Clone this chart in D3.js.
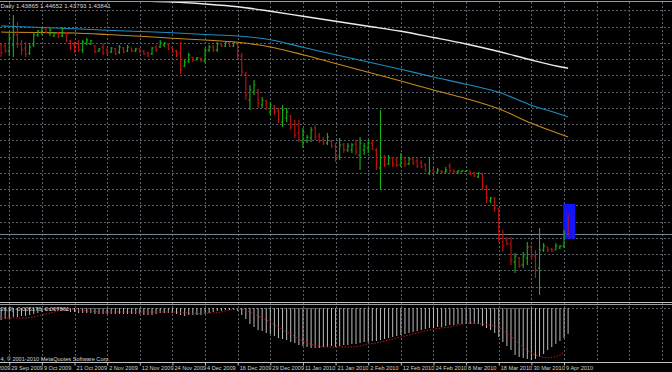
<!DOCTYPE html>
<html>
<head>
<meta charset="utf-8">
<script src="https://cdn.jsdelivr.net/npm/d3@7"></script>
<style>
html, body { margin: 0; padding: 0; background: #000; }
svg { display: block; }
text { font-family: "Liberation Sans Narrow", "Liberation Sans", Arial, sans-serif; }
</style>
</head>
<body>
<svg id="chart" width="672" height="372"></svg>
<script>
// daily bars, 25 Sep 2009 .. 12 Apr 2010
var opens = [1.5142,1.5138,1.5118,1.5142,1.5182,1.5146,1.5130,1.5110,1.5142,1.5182,
	1.5194,1.5206,1.5190,1.5178,1.5190,1.5178,1.5190,1.5158,1.5142,1.5146,
	1.5122,1.5150,1.5146,1.5138,1.5118,1.5134,1.5122,1.5114,1.5126,1.5114,
	1.5130,1.5118,1.5130,1.5118,1.5126,1.5118,1.5110,1.5106,1.5134,1.5134,
	1.5142,1.5146,1.5130,1.5118,1.5110,1.5058,1.5078,1.5094,1.5082,1.5090,
	1.5078,1.5122,1.5134,1.5122,1.5146,1.5138,1.5150,1.5138,1.5146,1.5098,
	1.5026,1.4922,1.4954,1.4962,1.4902,1.4918,1.4874,1.4898,1.4878,1.4834,
	1.4850,1.4858,1.4822,1.4790,1.4754,1.4758,1.4770,1.4810,1.4778,1.4762,
	1.4750,1.4758,1.4738,1.4698,1.4742,1.4722,1.4722,1.4746,1.4702,1.4722,
	1.4730,1.4750,1.4722,1.4650,1.4694,1.4666,1.4690,1.4682,1.4662,1.4690,
	1.4666,1.4686,1.4678,1.4670,1.4662,1.4630,1.4642,1.4634,1.4638,1.4634,
	1.4658,1.4642,1.4634,1.4634,1.4636,1.4638,1.4630,1.4614,1.4626,1.4574,
	1.4518,1.4530,1.4486,1.4370,1.4362,1.4346,1.4274,1.4290,1.4262,1.4290,
	1.4334,1.4298,1.4250,1.4322,1.4334,1.4326,1.4322,1.4330,1.4338,1.43865];
var highs = [1.5150,1.5150,1.5194,1.5262,1.5234,1.5162,1.5154,1.5150,1.5194,1.5202,
	1.5214,1.5210,1.5210,1.5194,1.5194,1.5214,1.5194,1.5162,1.5154,1.5162,
	1.5162,1.5170,1.5162,1.5142,1.5130,1.5150,1.5130,1.5134,1.5130,1.5142,
	1.5134,1.5142,1.5130,1.5130,1.5130,1.5122,1.5114,1.5134,1.5142,1.5162,
	1.5154,1.5150,1.5134,1.5122,1.5154,1.5082,1.5110,1.5094,1.5094,1.5090,
	1.5130,1.5142,1.5142,1.5154,1.5150,1.5154,1.5154,1.5154,1.5150,1.5110,
	1.5034,1.4982,1.5002,1.4966,1.4934,1.4922,1.4914,1.4902,1.4890,1.4902,
	1.4890,1.4862,1.4842,1.4842,1.4810,1.4782,1.4814,1.4822,1.4790,1.4774,
	1.4790,1.4762,1.4750,1.4770,1.4750,1.4750,1.4750,1.4762,1.4774,1.4750,
	1.4762,1.4762,1.4730,1.4882,1.4702,1.4702,1.4694,1.4694,1.4710,1.4690,
	1.4694,1.4694,1.4694,1.4682,1.4670,1.4690,1.4650,1.4650,1.4642,1.4654,
	1.4670,1.4642,1.4642,1.4642,1.4642,1.4638,1.4634,1.4634,1.4630,1.4582,
	1.4534,1.4534,1.4490,1.4402,1.4374,1.4374,1.4310,1.4294,1.4314,1.4354,
	1.4342,1.4322,1.4410,1.4350,1.4334,1.4330,1.4350,1.4342,1.4402,1.44652];
var lows = [1.5094,1.5110,1.5098,1.5094,1.5130,1.5102,1.5094,1.5102,1.5134,1.5174,
	1.5182,1.5190,1.5178,1.5174,1.5170,1.5174,1.5154,1.5122,1.5110,1.5114,
	1.5110,1.5142,1.5142,1.5110,1.5114,1.5102,1.5102,1.5110,1.5102,1.5106,
	1.5110,1.5114,1.5114,1.5114,1.5110,1.5102,1.5094,1.5102,1.5114,1.5130,
	1.5134,1.5122,1.5110,1.5094,1.5026,1.5054,1.5070,1.5074,1.5082,1.5074,
	1.5070,1.5114,1.5114,1.5114,1.5134,1.5134,1.5134,1.5134,1.5082,1.5022,
	1.4922,1.4882,1.4942,1.4890,1.4890,1.4882,1.4862,1.4862,1.4830,1.4814,
	1.4834,1.4802,1.4770,1.4754,1.4730,1.4750,1.4754,1.4762,1.4750,1.4742,
	1.4742,1.4730,1.4674,1.4682,1.4710,1.4714,1.4710,1.4702,1.4642,1.4702,
	1.4710,1.4722,1.4642,1.4562,1.4654,1.4662,1.4654,1.4654,1.4654,1.4654,
	1.4662,1.4662,1.4650,1.4650,1.4634,1.4622,1.4630,1.4630,1.4630,1.4630,
	1.4630,1.4630,1.4626,1.4634,1.4634,1.4622,1.4614,1.4610,1.4562,1.4510,
	1.4510,1.4474,1.4354,1.4314,1.4342,1.4262,1.4230,1.4250,1.4250,1.4262,
	1.4282,1.4210,1.4142,1.4314,1.4314,1.4314,1.4322,1.4326,1.4330,1.43793];
var closes = [1.5110,1.5118,1.5170,1.5182,1.5146,1.5122,1.5106,1.5134,1.5182,1.5198,
	1.5210,1.5194,1.5202,1.5190,1.5174,1.5206,1.5158,1.5130,1.5118,1.5122,
	1.5154,1.5162,1.5158,1.5114,1.5126,1.5110,1.5110,1.5130,1.5106,1.5134,
	1.5114,1.5134,1.5118,1.5126,1.5114,1.5106,1.5098,1.5130,1.5122,1.5154,
	1.5150,1.5126,1.5114,1.5102,1.5042,1.5074,1.5102,1.5082,1.5090,1.5078,
	1.5122,1.5134,1.5122,1.5146,1.5138,1.5150,1.5138,1.5150,1.5098,1.5034,
	1.4942,1.4962,1.4982,1.4910,1.4922,1.4894,1.4902,1.4874,1.4842,1.4882,
	1.4874,1.4814,1.4782,1.4762,1.4794,1.4774,1.4802,1.4774,1.4758,1.4750,
	1.4774,1.4738,1.4690,1.4742,1.4722,1.4738,1.4742,1.4714,1.4750,1.4738,
	1.4750,1.4726,1.4654,1.4690,1.4662,1.4690,1.4666,1.4662,1.4694,1.4666,
	1.4686,1.4670,1.4658,1.4654,1.4642,1.4638,1.4634,1.4642,1.4634,1.4642,
	1.4638,1.4634,1.4638,1.4638,1.4640,1.4626,1.4618,1.4630,1.4574,1.4530,
	1.4530,1.4490,1.4370,1.4338,1.4346,1.4282,1.4298,1.4258,1.4298,1.4334,
	1.4298,1.4242,1.4322,1.4338,1.4322,1.4318,1.4338,1.4338,1.4386,1.43841];

// moving averages, read every 8 bars
var maBars   = [0, 2, 10, 18, 26, 34, 42, 50, 58, 66, 74, 82, 90, 98, 106, 114, 122, 130, 138, 139];
var blueMA   = [1.5218,1.5217,1.5212,1.5207,1.5201,1.5196,1.5191,1.5184,1.5178,1.5163,
	1.5133,1.5103,1.5074,1.5045,1.5014,1.4985,1.4953,1.4901,1.4860,1.4854];
var orangeMA = [1.5194,1.5193,1.5192,1.5190,1.5184,1.5177,1.5169,1.5162,1.5153,1.5134,
	1.5103,1.5068,1.5033,1.4998,1.4962,1.4928,1.4887,1.4829,1.4780,1.4774];
var whiteMA  = [null,null,null,null,1.5322,1.5318,1.5314,1.5306,1.5295,1.5277,
	1.5257,1.5237,1.5217,1.5197,1.5172,1.5146,1.5116,1.5082,1.5052,1.5049];

// MACD(12,26,9)
var macdMain = [-0.0024,-0.0022,-0.0020,-0.0018,-0.0018,-0.0016,-0.0016,-0.0014,-0.0012,-0.0010,
	-0.0008,-0.0006,-0.0006,-0.0004,-0.0004,-0.0004,-0.0006,-0.0008,-0.0008,-0.0010,
	-0.0010,-0.0010,-0.0010,-0.0012,-0.0012,-0.0012,-0.0012,-0.0012,-0.0012,-0.0012,
	-0.0012,-0.0012,-0.0012,-0.0012,-0.0012,-0.0014,-0.0014,-0.0014,-0.0012,-0.0010,
	-0.0010,-0.0010,-0.0010,-0.0012,-0.0014,-0.0016,-0.0014,-0.0014,-0.0014,-0.0014,
	-0.0012,-0.0010,-0.0008,-0.0006,-0.0006,-0.0004,-0.0004,-0.0004,-0.0006,-0.0014,
	-0.0022,-0.0032,-0.0038,-0.0044,-0.0046,-0.0050,-0.0052,-0.0056,-0.0060,-0.0062,
	-0.0064,-0.0068,-0.0070,-0.0074,-0.0076,-0.0078,-0.0080,-0.0080,-0.0080,-0.0078,
	-0.0078,-0.0076,-0.0078,-0.0076,-0.0074,-0.0074,-0.0072,-0.0072,-0.0070,-0.0068,
	-0.0068,-0.0066,-0.0066,-0.0064,-0.0062,-0.0060,-0.0058,-0.0056,-0.0054,-0.0052,
	-0.0050,-0.0048,-0.0046,-0.0044,-0.0042,-0.0040,-0.0040,-0.0038,-0.0038,-0.0036,
	-0.0034,-0.0034,-0.0032,-0.0032,-0.0032,-0.0032,-0.0032,-0.0032,-0.0036,-0.0040,
	-0.0044,-0.0050,-0.0058,-0.0068,-0.0076,-0.0084,-0.0094,-0.0098,-0.0100,-0.0102,
	-0.0104,-0.0102,-0.0098,-0.0092,-0.0084,-0.0078,-0.0072,-0.0066,-0.0060,-0.005176];
var macdSignal = [-0.0020,-0.0020,-0.0020,-0.0020,-0.0020,-0.0020,-0.0020,-0.0019,-0.0018,-0.0016,
	-0.0014,-0.0012,-0.0010,-0.0008,-0.0006,-0.0004,-0.0002,-0.0002,-0.0003,-0.0004,
	-0.0005,-0.0006,-0.0006,-0.0007,-0.0008,-0.0008,-0.0008,-0.0008,-0.0008,-0.0008,
	-0.0008,-0.0008,-0.0008,-0.0008,-0.0008,-0.0008,-0.0008,-0.0008,-0.0008,-0.0008,
	-0.0008,-0.0008,-0.0008,-0.0008,-0.0009,-0.0010,-0.0010,-0.0011,-0.0011,-0.0011,
	-0.0011,-0.0010,-0.0010,-0.0009,-0.0008,-0.0006,-0.0004,-0.0003,-0.0002,-0.0003,
	-0.0005,-0.0008,-0.0012,-0.0016,-0.0020,-0.0024,-0.0028,-0.0033,-0.0038,-0.0043,
	-0.0048,-0.0052,-0.0057,-0.0062,-0.0066,-0.0070,-0.0073,-0.0075,-0.0077,-0.0078,
	-0.0078,-0.0078,-0.0078,-0.0078,-0.0078,-0.0078,-0.0078,-0.0077,-0.0076,-0.0074,
	-0.0072,-0.0071,-0.0070,-0.0068,-0.0066,-0.0064,-0.0062,-0.0060,-0.0058,-0.0056,
	-0.0054,-0.0052,-0.0050,-0.0048,-0.0046,-0.0044,-0.0042,-0.0041,-0.0040,-0.0039,
	-0.0038,-0.0036,-0.0034,-0.0032,-0.0031,-0.0030,-0.0030,-0.0031,-0.0032,-0.0033,
	-0.0034,-0.0036,-0.0039,-0.0044,-0.0050,-0.0057,-0.0064,-0.0072,-0.0079,-0.0085,
	-0.0090,-0.0094,-0.0097,-0.0099,-0.0100,-0.0099,-0.0097,-0.0094,-0.0088,-0.007861];

// time axis: a label every 8 bars
var labelBars = [-6, 2, 10, 18, 26, 34, 42, 50, 58, 66, 74, 82, 90, 98, 106, 114, 122, 130, 138];
var dateLabels = ["17 Sep 2009","29 Sep 2009","9 Oct 2009","21 Oct 2009","2 Nov 2009","12 Nov 2009",
	"24 Nov 2009","4 Dec 2009","16 Dec 2009","29 Dec 2009","11 Jan 2010","21 Jan 2010","2 Feb 2010",
	"12 Feb 2010","24 Feb 2010","8 Mar 2010","18 Mar 2010","30 Mar 2010","9 Apr 2010"];

// blue rectangle object on the chart
var boxBars = [137.8, 140.75];
var boxPrices = [1.4506, 1.4367];

var headerText = "Daily  1.43865 1.44652 1.43793 1.43841";
var macdText = "26,9) -0.005176 -0.007861";
var copyText = "4, \u00a9 2001-2010 MetaQuotes Software Corp.";

var W = 672, MAIN_BOTTOM = 302, SUB_TOP = 305, SUB_BOTTOM = 362;
var GRID = "#5a616d", GREEN = "#14b414", RED = "#c41212";

var svg = d3.select("#chart");
svg.append("rect").attr("width", W).attr("height", 372).attr("fill", "#000");

var x = d3.scaleLinear().domain([0, 139]).range([1.1, 568.1]);
var y = d3.scaleLinear().domain([1.5322, 1.4122]).range([0, 300]);
var ym = d3.scaleLinear().domain([0.0006, -0.0108]).range([SUB_TOP, SUB_BOTTOM]);

svg.append("clipPath").attr("id", "mainclip")
	.append("rect").attr("x", 0).attr("y", 2).attr("width", W).attr("height", MAIN_BOTTOM - 2);

// grid
var gridBars = d3.range(-6, 163, 8);
svg.append("g")
	.selectAll("line")
	.data(gridBars)
	.enter().append("line")
		.attr("x1", function(d) { return Math.round(x(d)) + 0.5; })
		.attr("x2", function(d) { return Math.round(x(d)) + 0.5; })
		.attr("y1", 2)
		.attr("y2", SUB_BOTTOM)
		.attr("stroke", GRID)
		.attr("stroke-dasharray", "2,2");

var gridPrices = d3.range(0, 18).map(function(k) { return 1.5280 - 0.0065 * k; });
svg.append("g")
	.selectAll("line")
	.data(gridPrices)
	.enter().append("line")
		.attr("x1", 0)
		.attr("x2", W)
		.attr("y1", function(d) { return Math.round(y(d)) + 0.5; })
		.attr("y2", function(d) { return Math.round(y(d)) + 0.5; })
		.attr("stroke", GRID)
		.attr("stroke-dasharray", "2,2");

// zero level of the MACD window
svg.append("line")
	.attr("x1", 0).attr("x2", W)
	.attr("y1", Math.round(ym(0)) + 0.5).attr("y2", Math.round(ym(0)) + 0.5)
	.attr("stroke", GRID)
	.attr("stroke-dasharray", "2,2");

// bid line
svg.append("line")
	.attr("x1", 0).attr("x2", W)
	.attr("y1", y(closes[139])).attr("y2", y(closes[139]))
	.attr("stroke", "#7d8696")
	.attr("stroke-width", 1);

// rectangle object
svg.append("rect")
	.attr("x", x(boxBars[0]))
	.attr("y", y(boxPrices[0]))
	.attr("width", x(boxBars[1]) - x(boxBars[0]))
	.attr("height", y(boxPrices[1]) - y(boxPrices[0]))
	.attr("fill", "#1414f4");

// moving averages
var main = svg.append("g").attr("clip-path", "url(#mainclip)");

function drawMA(values, colour, width) {
	var line = d3.line()
		.defined(function(d) { return d != null; })
		.x(function(d, i) { return x(maBars[i]); })
		.y(function(d) { return y(d); })
		.curve(d3.curveMonotoneX);
	main.append("path")
		.datum(values)
		.attr("d", line)
		.attr("fill", "none")
		.attr("stroke", colour)
		.attr("stroke-width", width);
}
drawMA(whiteMA, "#ececec", 1.4);
drawMA(blueMA, "#1a8ec4", 1.1);
drawMA(orangeMA, "#c98a1c", 1.1);

// OHLC bars
var bars = d3.range(opens.length);
function barColour(i) { return closes[i] >= opens[i] ? GREEN : RED; }

var g = main.selectAll("g.bar")
	.data(bars)
	.enter().append("g")
		.classed("bar", true)
		.attr("stroke", barColour)
		.attr("stroke-width", 1.1);
g.append("line")
	.attr("x1", function(i) { return x(i); })
	.attr("x2", function(i) { return x(i); })
	.attr("y1", function(i) { return y(highs[i]); })
	.attr("y2", function(i) { return y(lows[i]); });
g.append("line")
	.attr("x1", function(i) { return x(i) - 1.5; })
	.attr("x2", function(i) { return x(i); })
	.attr("y1", function(i) { return y(opens[i]); })
	.attr("y2", function(i) { return y(opens[i]); });
g.append("line")
	.attr("x1", function(i) { return x(i); })
	.attr("x2", function(i) { return x(i) + 1.5; })
	.attr("y1", function(i) { return y(closes[i]); })
	.attr("y2", function(i) { return y(closes[i]); });

// MACD histogram + signal
svg.append("g")
	.selectAll("line")
	.data(macdMain)
	.enter().append("line")
		.attr("x1", function(d, i) { return x(i); })
		.attr("x2", function(d, i) { return x(i); })
		.attr("y1", ym(0))
		.attr("y2", function(d) { return ym(d); })
		.attr("stroke", "#bcbcbc")
		.attr("stroke-width", 1);

svg.append("path")
	.datum(macdSignal)
	.attr("d", d3.line()
		.x(function(d, i) { return x(i); })
		.y(function(d) { return ym(d); }))
	.attr("fill", "none")
	.attr("stroke", "#c81414")
	.attr("stroke-width", 1)
	.attr("stroke-dasharray", "1.5,1.5");

// window borders
svg.append("line").attr("x1", 0).attr("x2", W).attr("y1", 1.5).attr("y2", 1.5)
	.attr("stroke", "#9a9a9a");
svg.append("line").attr("x1", 0).attr("x2", W).attr("y1", MAIN_BOTTOM + 0.5).attr("y2", MAIN_BOTTOM + 0.5)
	.attr("stroke", "#c4c4c4");
svg.append("line").attr("x1", 0).attr("x2", W).attr("y1", SUB_TOP - 0.5).attr("y2", SUB_TOP - 0.5)
	.attr("stroke", "#9c9c9c");
svg.append("line").attr("x1", 0).attr("x2", W).attr("y1", SUB_BOTTOM + 0.5).attr("y2", SUB_BOTTOM + 0.5)
	.attr("stroke", "#c4c4c4");

// date axis
var xAxis = d3.axisBottom(x)
	.tickValues(labelBars)
	.tickFormat(function(d, i) { return dateLabels[i]; })
	.tickSize(3);
var ax = svg.append("g")
	.attr("transform", "translate(0," + (SUB_BOTTOM + 0.5) + ")")
	.call(xAxis);
ax.select(".domain").remove();
ax.selectAll(".tick line").attr("stroke", "#c4c4c4");
ax.selectAll(".tick text")
	.attr("text-anchor", "start")
	.attr("x", 1.5)
	.attr("y", 3.5)
	.attr("dy", "0.71em")
	.attr("fill", "#d0d0d0")
	.attr("font-size", 5.6)
	.attr("font-family", "'Liberation Sans Narrow', 'Liberation Sans', Arial, sans-serif");

// texts
function label(txt, tx, ty, size) {
	svg.append("text")
		.attr("x", tx)
		.attr("y", ty)
		.attr("fill", "#d4d4d4")
		.attr("font-size", size)
		.text(txt);
}
label(headerText, 0.5, 7.5, 6.2);
label(macdText, 0.5, 310.5, 5.8);
label(copyText, 0.5, 360.5, 5.6);
</script>
</body>
</html>
